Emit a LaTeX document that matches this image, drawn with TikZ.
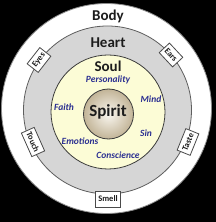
\documentclass[tikz,border=0pt]{standalone}
\usepackage{fontspec}
\setmainfont{Carlito}
\usepackage{tikz}
\usetikzlibrary{positioning}
\definecolor{ink}{HTML}{1C1C1C}
\definecolor{word}{HTML}{2B2F91}
\definecolor{bodyfill}{HTML}{FFFFFF}
\definecolor{bodydraw}{HTML}{8C8C8C}
\definecolor{heartfill}{HTML}{D6D6D6}
\definecolor{heartdraw}{HTML}{5E5E5E}
\definecolor{soulfill}{HTML}{FCFCD6}
\definecolor{souldraw}{HTML}{3C3C3C}
\definecolor{spiritin}{HTML}{FAF7F0}
\definecolor{spiritout}{HTML}{C2B497}
\definecolor{boxdraw}{HTML}{4A4A4A}
\tikzset{
  ring/.style={circle,inner sep=0pt,line width=0.8pt},
  title/.style={font=\fontsize{15}{17}\selectfont\bfseries,text=ink},
  trait/.style={font=\fontsize{9.5}{11}\selectfont\bfseries\itshape,text=word},
  sense/.style={draw=boxdraw,fill=white,line width=0.8pt,inner sep=2.5pt,
    minimum height=14pt,font=\fontsize{8.5}{9}\selectfont\bfseries,text=ink}
}
\begin{document}
\begin{tikzpicture}[x=1pt,y=1pt]
  \fill[black] (-108,-112) rectangle (108,110);
  \useasboundingbox (-108,-112) rectangle (108,110);
  % the four circles
  \node[ring,fill=bodyfill,draw=bodydraw,minimum size=210pt] (body) at (-1.5,1.5) {};
  \node[ring,fill=heartfill,draw=heartdraw,minimum size=168pt] (heart) at (-0.5,0) {};
  \node[ring,fill=soulfill,draw=souldraw,minimum size=114pt] (soul) at (0,-2) {};
  \node[ring,shading=radial,inner color=spiritin,outer color=spiritout,draw=souldraw,
    minimum size=50pt] (spirit) at (0.5,-4) {};
  % titles
  \node[title] (tbody) at (0,94) {Body};
  \node[title] (theart) at (0,67) {Heart};
  \node[title] (tsoul) at (0,44) {Soul};
  \node[title,font=\fontsize{17}{19}\selectfont\bfseries] (tspirit) at (0,-2) {Spirit};
  % what the soul holds
  \node[trait] (personality) at (0,30) {Personality};
  \node[trait] (mind) at (43,11) {Mind};
  \node[trait] (faith) at (-44,3) {Faith};
  \node[trait] (sin) at (38,-23) {Sin};
  \node[trait] (emotions) at (-28,-31) {Emotions};
  \node[trait] (conscience) at (10,-45) {Conscience};
  % the senses on the heart's rim
  \node[sense,rotate=52] (eyes) at (-69,50) {Eyes};
  \node[sense,rotate=-47] (ears) at (63,55) {Ears};
  \node[sense,rotate=-66] (touch) at (-75,-32) {Touch};
  \node[sense,rotate=68] (taste) at (80,-32) {Taste};
  \node[sense,minimum height=16pt] (smell) at (0,-89) {Smell};
\end{tikzpicture}
\end{document}
